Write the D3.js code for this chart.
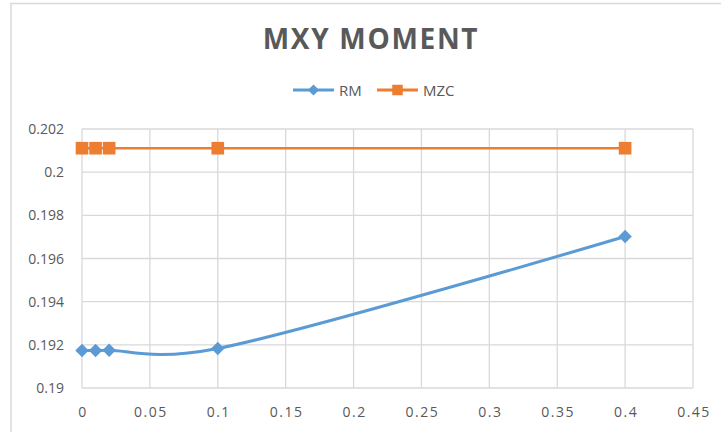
<!DOCTYPE html>
<html>
<head>
<meta charset="utf-8">
<script src="https://cdn.jsdelivr.net/npm/d3@7"></script>
<style>
  body { margin: 0; background: #fff; }
  svg { display: block; font-family: "Open Sans", sans-serif; }
</style>
</head>
<body>
<div id="chart"></div>
<script>
// data
var xValues = [0, 0.01, 0.02, 0.1, 0.4];
var rmValues = [0.19174, 0.19174, 0.19175, 0.19183, 0.19702];
var mzcValues = [0.20111, 0.20111, 0.20111, 0.20111, 0.20111];
var xTicks = [0, 0.05, 0.1, 0.15, 0.2, 0.25, 0.3, 0.35, 0.4, 0.45];
var yTicks = [0.19, 0.192, 0.194, 0.196, 0.198, 0.2, 0.202];
var seriesNames = ["RM", "MZC"];
var seriesColors = ["#5B9BD5", "#ED7D31"];

var width = 721, height = 432;
var margin = {top: 129, right: 28, bottom: 44, left: 82};

var svg = d3.select("#chart").append("svg")
  .attr("width", width).attr("height", height);

// chart frame
svg.append("rect")
  .attr("x", 11).attr("y", 3.5)
  .attr("width", width + 20).attr("height", height + 20)
  .attr("fill", "none").attr("stroke", "#d9d9d9").attr("stroke-width", 1.5);

var x = d3.scaleLinear().domain([0, 0.45]).range([margin.left, width - margin.right]);
var y = d3.scaleLinear().domain([0.19, 0.202]).range([height - margin.bottom, margin.top]);

// gridlines
svg.append("g").selectAll("line").data(yTicks).enter().append("line")
  .attr("x1", x(0)).attr("x2", x(0.45))
  .attr("y1", function (d) { return y(d); }).attr("y2", function (d) { return y(d); })
  .attr("stroke", "#d9d9d9").attr("stroke-width", 1.3);
svg.append("g").selectAll("line").data(xTicks).enter().append("line")
  .attr("y1", y(0.19)).attr("y2", y(0.202))
  .attr("x1", function (d) { return x(d); }).attr("x2", function (d) { return x(d); })
  .attr("stroke", "#d9d9d9").attr("stroke-width", 1.3);

// tick labels
svg.append("g").selectAll("text").data(yTicks).enter().append("text")
  .attr("x", 64).attr("y", function (d) { return y(d) + 5; })
  .attr("text-anchor", "end").attr("fill", "#595959").style("font-size", "14px")
  .text(function (d) { return d3.format("~g")(+d.toFixed(3)); });
svg.append("g").selectAll("text").data(xTicks).enter().append("text")
  .attr("x", function (d) { return x(d) + 1; }).attr("y", 417)
  .attr("text-anchor", "middle").attr("fill", "#595959").style("font-size", "14px")
  .style("letter-spacing", "1.5px")
  .text(function (d) { return d3.format("~g")(+d.toFixed(2)); });

// lines
var rmLine = d3.line().curve(d3.curveCatmullRom.alpha(0.2))
  .x(function (d, i) { return x(xValues[i]); }).y(function (d) { return y(d); });
var mzcLine = d3.line()
  .x(function (d, i) { return x(xValues[i]); }).y(function (d) { return y(d); });

svg.append("path").datum(mzcValues).attr("d", mzcLine)
  .attr("fill", "none").attr("stroke", seriesColors[1]).attr("stroke-width", 2.6);
svg.append("path").datum(rmValues).attr("d", rmLine)
  .attr("fill", "none").attr("stroke", seriesColors[0]).attr("stroke-width", 3);

var diamond = d3.symbol().type(d3.symbolDiamond2).size(115);
var square = d3.symbol().type(d3.symbolSquare).size(160);

svg.append("g").selectAll("path").data(mzcValues).enter().append("path")
  .attr("d", square)
  .attr("transform", function (d, i) { return "translate(" + x(xValues[i]) + "," + y(d) + ")"; })
  .attr("fill", seriesColors[1]);
svg.append("g").selectAll("path").data(rmValues).enter().append("path")
  .attr("d", diamond)
  .attr("transform", function (d, i) { return "translate(" + x(xValues[i]) + "," + y(d) + ")"; })
  .attr("fill", seriesColors[0]);

// title
svg.append("text").attr("x", 371).attr("y", 49)
  .attr("text-anchor", "middle").attr("fill", "#595959")
  .style("font-size", "28px").style("font-weight", "bold").style("letter-spacing", "1.7px")
  .text("MXY MOMENT");

// legend
var legendX = [293, 377];
var legend = svg.append("g").selectAll("g").data(seriesNames).enter().append("g")
  .attr("transform", function (d, i) { return "translate(" + legendX[i] + ",90)"; });
legend.append("line").attr("x1", 0).attr("x2", 41)
  .attr("stroke", function (d, i) { return seriesColors[i]; }).attr("stroke-width", 3);
legend.append("path")
  .attr("d", function (d, i) { return i === 0 ? d3.symbol().type(d3.symbolDiamond2).size(80)() : d3.symbol().type(d3.symbolSquare).size(110)(); })
  .attr("transform", "translate(20.5,0)")
  .attr("fill", function (d, i) { return seriesColors[i]; });
legend.append("text").attr("x", 46).attr("y", 5.5)
  .attr("fill", "#595959").style("font-size", "15px")
  .text(function (d) { return d; });
</script>
</body>
</html>
